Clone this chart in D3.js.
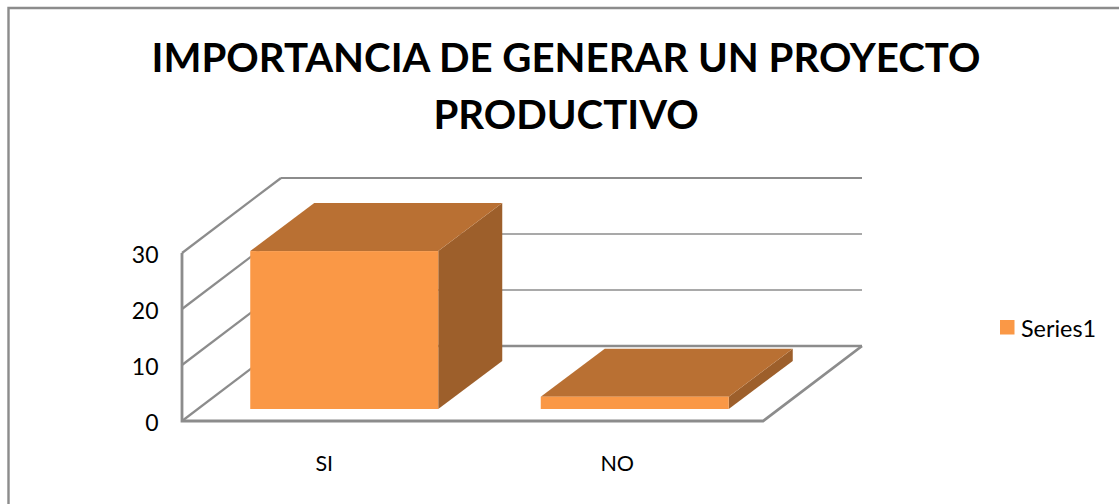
<!DOCTYPE html>
<html>
<head>
<meta charset="utf-8">
<script src="https://cdn.jsdelivr.net/npm/d3@7/dist/d3.min.js"></script>
<style>
html,body{margin:0;padding:0;background:#fff;overflow:hidden}
svg{display:block}
text{font-family:Lato,"Open Sans",sans-serif;fill:#000}
</style>
</head>
<body>
<svg id="chart" width="1119" height="504"></svg>
<script>
const titleLines = ["IMPORTANCIA DE GENERAR UN PROYECTO", "PRODUCTIVO"];
const categories = ["SI", "NO"];
const seriesName = "Series1";
const seriesValues = [28.2, 2.2];
const yTicks = [0, 10, 20, 30];

const svg = d3.select("#chart");
const x = d3.scaleBand().domain(categories).range([182, 763]);
const y = d3.scaleLinear().domain([0, 30]).range([421, 253]);
const depth = {dx: 99, dy: -75};
const barDepth = {dx: 64, dy: -48};
const barOffset = {dx: 17, dy: -12};
const barW = 188;
const axisColor = "#8c8c8c";
const colors = {front: "#FA9846", top: "#B97033", side: "#9D5F2B"};

// frame
svg.append("path").attr("d", "M8.5,504V8H1119").attr("fill", "none").attr("stroke", axisColor).attr("stroke-width", 2.4);

// title
svg.selectAll("text.title").data(titleLines).join("text").attr("class", "title")
  .attr("x", 566).attr("y", (d, i) => 72 + i * 57)
  .attr("text-anchor", "middle").attr("font-size", 40.2).attr("font-weight", 700).text(d => d);

// back wall gridlines and side wall lines
const grid = svg.append("g").attr("fill", "none").attr("stroke", axisColor);
grid.selectAll("path.diag").data(yTicks).join("path").attr("class", "diag")
  .attr("stroke-width", 2.2)
  .attr("d", d => `M${x.range()[0]},${y(d)}l${depth.dx},${depth.dy}`);
grid.selectAll("path.back").data(yTicks).join("path").attr("class", "back")
  .attr("stroke-width", d => d === 0 ? 2.6 : d === 30 ? 2.2 : 1.5)
  .attr("d", d => `M${x.range()[0] + depth.dx},${y(d) + depth.dy}H${x.range()[1] + depth.dx}`);
// front floor edge + left vertical + right floor edge
grid.append("path").attr("stroke-width", 2.8)
  .attr("d", `M${x.range()[0]},${y(30)}V${y(0)}H${x.range()[1]}L${x.range()[1] + depth.dx},${y(0) + depth.dy}`);

// bars
const bars = svg.append("g").selectAll("g").data(categories).join("g");
const bx = c => x(c) + (x.bandwidth() - barW) / 2 + barOffset.dx;
const val = i => seriesValues[i];
bars.append("path").attr("fill", colors.side).attr("d", (c, i) => {
  const l = bx(c) + barW, t = y(val(i)) + barOffset.dy, b = y(0) + barOffset.dy;
  return `M${l},${t}l${barDepth.dx},${barDepth.dy}V${b + barDepth.dy}L${l},${b}Z`;
});
bars.append("path").attr("fill", colors.top).attr("d", (c, i) => {
  const l = bx(c), t = y(val(i)) + barOffset.dy;
  return `M${l},${t}l${barDepth.dx},${barDepth.dy}h${barW}l${-barDepth.dx},${-barDepth.dy}Z`;
});
bars.append("rect").attr("fill", colors.front)
  .attr("x", c => bx(c)).attr("width", barW)
  .attr("y", (c, i) => y(val(i)) + barOffset.dy)
  .attr("height", (c, i) => y(0) - y(val(i)));

// y tick labels
svg.append("g").selectAll("text").data(yTicks).join("text")
  .attr("x", 158.5).attr("y", d => y(d) + 10)
  .attr("text-anchor", "end").attr("font-size", 23).text(d => d);

// category labels
svg.append("g").selectAll("text").data(categories).join("text")
  .attr("x", (c, i) => x(c) + x.bandwidth() / 2 - 3 + i * 2.5).attr("y", 471)
  .attr("text-anchor", "middle").attr("font-size", 21.5).text(c => c);

// legend
svg.append("rect").attr("x", 1000).attr("y", 320).attr("width", 14.5).attr("height", 14.5).attr("fill", colors.front);
svg.append("text").attr("x", 1021).attr("y", 337).attr("font-size", 23.4).text(seriesName);
</script>
</body>
</html>
